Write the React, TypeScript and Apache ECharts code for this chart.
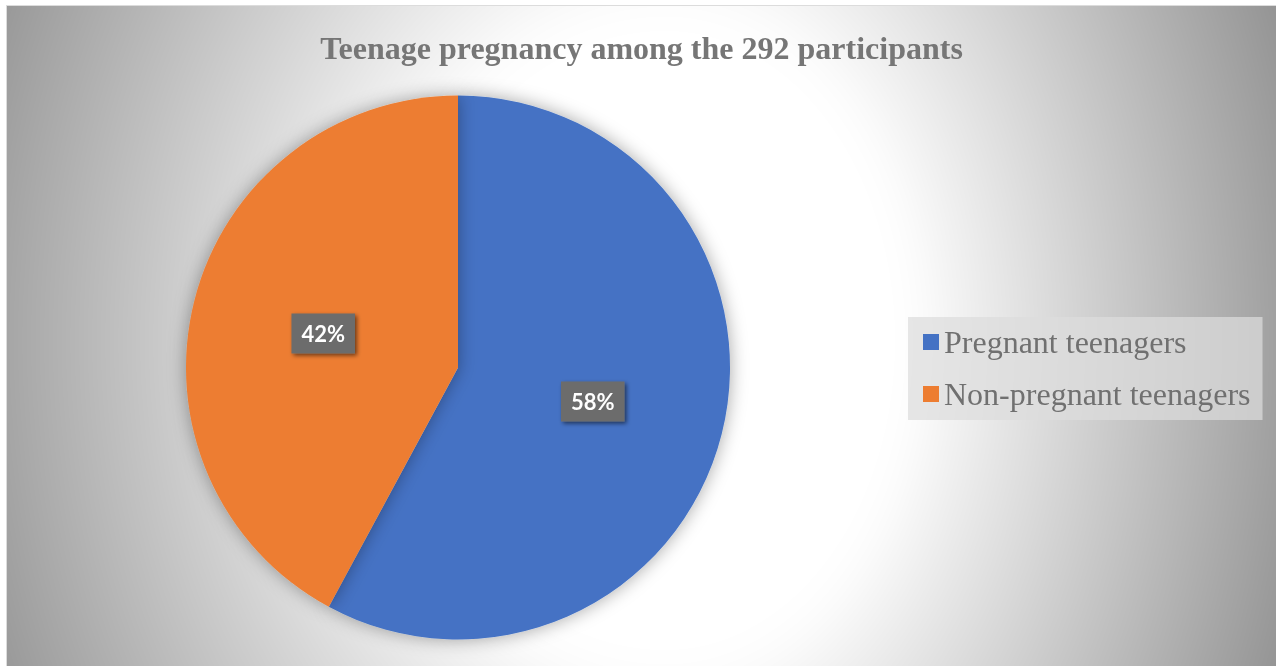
import React, { useEffect, useRef } from "react";
import * as echarts from "echarts";

const titleText = "Teenage pregnancy among the 292 participants";
const categories = ["Pregnant teenagers", "Non-pregnant teenagers"];
const counts = [169, 123];
const sliceColors = ["#4472C4", "#ED7D31"];

const CHART_W = 1269;
const CHART_H = 660;

function makeBackground(w: number, h: number): string {
  const c = document.createElement("canvas");
  c.width = w;
  c.height = h;
  const ctx = c.getContext("2d");
  if (!ctx) return "";
  const img = ctx.createImageData(w, h);
  const cx = 658;
  const cy = 334;
  const ay = 290;
  for (let y = 0; y < h; y++) {
    for (let x = 0; x < w; x++) {
      const dx = x - cx;
      const dy = y - cy;
      const ax = dx < 0 ? 240 : 215;
      const t = Math.sqrt((dx / ax) * (dx / ax) + (dy / ay) * (dy / ay));
      let e = t - 1;
      if (e < 0) e = 0;
      const k = e < 0.25 ? (e * e) / 0.5 : e - 0.125;
      let v = 255 - 55 * k;
      if (v < 0) v = 0;
      const i = (y * w + x) * 4;
      img.data[i] = v;
      img.data[i + 1] = v;
      img.data[i + 2] = v;
      img.data[i + 3] = 255;
    }
  }
  ctx.putImageData(img, 0, 0);
  return c.toDataURL();
}

export default function App() {
  const ref = useRef<HTMLDivElement>(null);

  useEffect(() => {
    const el = ref.current;
    if (!el) return;
    el.style.backgroundImage = `url(${makeBackground(CHART_W, CHART_H)})`;
    el.style.backgroundRepeat = "no-repeat";
    const chart = echarts.init(el, undefined, { renderer: "svg" });
    const serif = "'Times New Roman', 'Liberation Serif', serif";
    chart.setOption({
      animation: false,
      backgroundColor: "transparent",
      title: {
        text: titleText,
        left: "center",
        top: 26,
        padding: 0,
        textStyle: {
          fontFamily: serif,
          fontWeight: "bold",
          fontSize: 32,
          lineHeight: 32,
          color: "#767676",
        },
      },
      legend: {
        orient: "vertical",
        left: 901,
        top: 311,
        padding: [9, 12, 10, 15],
        backgroundColor: "rgba(220,220,220,0.72)",
        itemWidth: 16,
        itemHeight: 16,
        itemGap: 20,
        icon: "rect",
        data: categories,
        textStyle: {
          fontFamily: serif,
          fontSize: 32,
          lineHeight: 32,
          color: "#707070",
        },
      },
      series: [
        {
          type: "pie",
          center: [451, 361.5],
          radius: [0, 272],
          startAngle: 90,
          clockwise: true,
          color: sliceColors,
          itemStyle: {
            shadowBlur: 18,
            shadowColor: "rgba(0,0,0,0.35)",
          },
          label: {
            show: true,
            position: "inside",
            formatter: (p: any) => Math.round(p.percent) + "%",
            color: "#ffffff",
            fontFamily: "Lato, 'Open Sans', sans-serif",
            fontWeight: "bold",
            fontSize: 22,
            lineHeight: 22,
            backgroundColor: "#6c6c6c",
            padding: [9, 10, 9, 10],
            shadowColor: "rgba(0,0,0,0.55)",
            shadowBlur: 4,
            shadowOffsetX: 2,
            shadowOffsetY: 2,
          },
          labelLine: { show: false },
          emphasis: { disabled: true },
          data: categories.map((name, i) => ({ name, value: counts[i] })),
        },
      ],
    });
    return () => {
      chart.dispose();
    };
  }, []);

  return (
    <div
      ref={ref}
      style={{
        position: "fixed",
        left: 6,
        top: 5,
        width: 1270,
        height: 661,
        boxSizing: "border-box",
        borderLeft: "1px solid #dcdcdc",
        borderTop: "1px solid #dcdcdc",
      }}
    />
  );
}
